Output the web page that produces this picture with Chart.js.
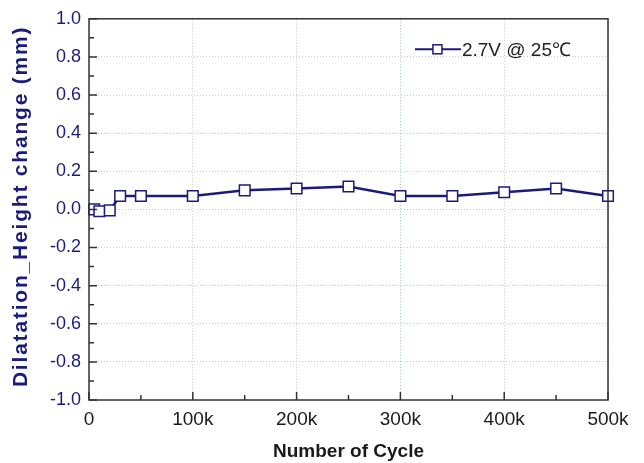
<!DOCTYPE html>
<html>
<head>
<meta charset="utf-8">
<script src="https://cdn.jsdelivr.net/npm/chart.js@4.4.1/dist/chart.umd.min.js"></script>
<style>
  html, body { margin: 0; padding: 0; background: #fff; }
  #wrap { width: 644px; height: 463px; position: relative; }
</style>
</head>
<body>
<div id="wrap"><canvas id="c" width="644" height="463"></canvas></div>
<script>
const seriesLabel = '2.7V @ 25\u2103';
const yAxisTitle = 'Dilatation_Height change (mm)';
const xAxisTitle = 'Number of Cycle';
const cycles = [5000, 10000, 20000, 30000, 50000, 100000, 150000, 200000, 250000, 300000, 350000, 400000, 450000, 500000];
const heightChange = [0.0, -0.01, -0.005, 0.07, 0.07, 0.07, 0.10, 0.11, 0.12, 0.07, 0.07, 0.09, 0.11, 0.07];
const xTicks = [0, 100000, 200000, 300000, 400000, 500000];
const xTickLabels = ['0', '100k', '200k', '300k', '400k', '500k'];
const xMinorTicks = [50000, 150000, 250000, 350000, 450000];
const yTicks = [-1.0, -0.8, -0.6, -0.4, -0.2, 0.0, 0.2, 0.4, 0.6, 0.8, 1.0];
const yMinorTicks = [-0.9, -0.7, -0.5, -0.3, -0.1, 0.1, 0.3, 0.5, 0.7, 0.9];

const NAVY = '#1b1b7c';
const FRAME = '#333333';
const FONT = '"Liberation Sans", Arial, sans-serif';

const framePlugin = {
  id: 'frame',
  afterDraw(chart) {
    const { ctx, chartArea: a, scales: { x, y } } = chart;
    ctx.save();
    ctx.strokeStyle = FRAME;
    ctx.lineWidth = 1.5;
    ctx.strokeRect(a.left, a.top, a.right - a.left, a.bottom - a.top);
    ctx.beginPath();
    xTicks.forEach(v => { const p = x.getPixelForValue(v); ctx.moveTo(p, a.bottom); ctx.lineTo(p, a.bottom - 8); });
    xMinorTicks.forEach(v => { const p = x.getPixelForValue(v); ctx.moveTo(p, a.bottom); ctx.lineTo(p, a.bottom - 5); });
    yTicks.forEach(v => { const p = y.getPixelForValue(v); ctx.moveTo(a.left, p); ctx.lineTo(a.left + 8, p); });
    yMinorTicks.forEach(v => { const p = y.getPixelForValue(v); ctx.moveTo(a.left, p); ctx.lineTo(a.left + 5, p); });
    ctx.stroke();

    // y-axis title (letter-spaced like the reference)
    ctx.save();
    ctx.translate(21, (a.top + a.bottom) / 2 - 3);
    ctx.rotate(-Math.PI / 2);
    ctx.fillStyle = NAVY;
    ctx.font = 'bold 21px ' + FONT;
    if ('letterSpacing' in ctx) ctx.letterSpacing = '1.8px';
    ctx.textAlign = 'center';
    ctx.textBaseline = 'middle';
    ctx.fillText(yAxisTitle, 0, 0);
    ctx.restore();

    // legend
    const ds = chart.data.datasets[0];
    const lx = x.getPixelForValue(314000), ly = y.getPixelForValue(0.84);
    ctx.strokeStyle = NAVY;
    ctx.lineWidth = 2;
    ctx.beginPath();
    ctx.moveTo(lx, ly); ctx.lineTo(lx + 46, ly);
    ctx.stroke();
    ctx.fillStyle = '#fff';
    ctx.lineWidth = 1.5;
    ctx.fillRect(lx + 18, ly - 4.5, 9, 9);
    ctx.strokeRect(lx + 18, ly - 4.5, 9, 9);
    ctx.fillStyle = '#222';
    ctx.font = '19px ' + FONT;
    ctx.textBaseline = 'middle';
    ctx.textAlign = 'left';
    ctx.fillText(ds.label, lx + 47, ly + 1);
    ctx.restore();
  }
};

new Chart(document.getElementById('c'), {
  type: 'scatter',
  data: {
    datasets: [{
      label: seriesLabel,
      data: cycles.map((c, i) => ({ x: c, y: heightChange[i] })),
      showLine: true,
      borderColor: NAVY,
      borderWidth: 2.5,
      pointStyle: 'rect',
      pointRadius: 7.5,
      pointBackgroundColor: '#ffffff',
      pointBorderColor: NAVY,
      pointBorderWidth: 1.5,
      clip: false
    }]
  },
  options: {
    responsive: false,
    animation: false,
    layout: { padding: { top: 17, right: 36, left: 0, bottom: 0 } },
    plugins: { legend: { display: false }, tooltip: { enabled: false } },
    scales: {
      x: {
        type: 'linear',
        min: 0, max: 500000,
        afterBuildTicks: s => { s.ticks = xTicks.map(v => ({ value: v })); },
        afterFit: s => { s.height = 63; },
        ticks: {
          callback: (v) => xTickLabels[xTicks.indexOf(v)],
          color: '#1a1a1a',
          font: { family: FONT, size: 19 },
          padding: 8,
          maxRotation: 0
        },
        grid: {
          drawTicks: false,
          color: ctx => (ctx.tick && ctx.tick.value === 300000) ? '#8fc7c7' : '#c8c8c8',
          lineWidth: 1
        },
        border: { display: false, dash: [1, 2] },
        title: {
          display: true,
          text: xAxisTitle,
          color: '#1a1a1a',
          font: { family: FONT, size: 19, weight: 'bold' },
          padding: { top: 10, bottom: 0 }
        }
      },
      y: {
        type: 'linear',
        min: -1.0, max: 1.0,
        afterBuildTicks: s => { s.ticks = yTicks.map(v => ({ value: v })); },
        afterFit: s => { s.width = 89; },
        ticks: {
          callback: v => v.toFixed(1),
          color: NAVY,
          font: { family: FONT, size: 18 },
          padding: 8
        },
        grid: {
          drawTicks: false,
          color: '#c8c8c8',
          lineWidth: 1
        },
        border: { display: false, dash: [1, 2] },
        title: { display: false }
      }
    }
  },
  plugins: [framePlugin]
});
</script>
</body>
</html>
